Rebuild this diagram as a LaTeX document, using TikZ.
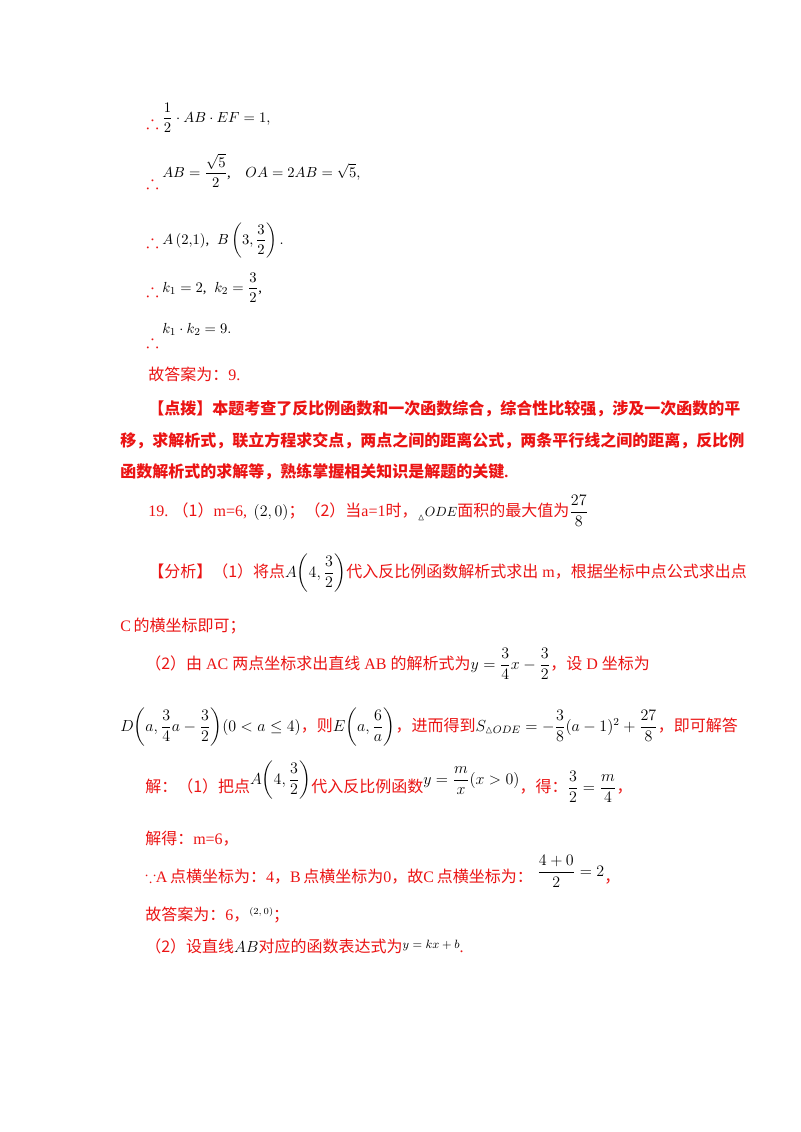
\documentclass[tikz,border=0pt]{standalone}
\usepackage{amsmath,amssymb}
\usepackage{fontspec}
\setmainfont{Liberation Serif}
\newfontfamily\cjk{Noto Sans CJK SC}
\definecolor{rd}{RGB}{235,20,20}
\newcommand{\C}[1]{{\cjk #1}}
\newcommand{\K}[1]{\textcolor{black}{#1}}
\begin{document}
\begin{tikzpicture}[x=0.75pt,y=-0.75pt,
  t/.style={anchor=base west,inner sep=0pt,font=\fontsize{12}{14}\selectfont,text=rd},
  th/.style={anchor=base west,inner sep=0pt,font=\fontsize{14}{16}\selectfont,text=rd},
  m/.style={anchor=base west,inner sep=0pt,font=\fontsize{11}{13}\selectfont}]
\useasboundingbox (0,0) rectangle (800,1132);
\fill[white] (0,0) rectangle (800,1132);
\node[th] (l1a) at (146,128) {$\therefore$};
\node[m] (l1) at (162,122) {$\dfrac{1}{2}\cdot AB\cdot EF=1,$};
\node[th] (l2a) at (146,188) {$\therefore$};
\node[m] (l2) at (162,177) {$AB=\dfrac{\sqrt5}{2}$,\quad $OA=2AB=\sqrt5,$};
\node[th] (l3a) at (146,247) {$\therefore$};
\node[m] (l3) at (162,244) {$A\left(2{,}1\right)$,\; $B\left(3,\dfrac{3}{2}\right).$};
\node[th] (l4a) at (146,296) {$\therefore$};
\node[m] (l4) at (162,292) {$k_1=2$,\; $k_2=\dfrac{3}{2}$,};
\node[th] (l5a) at (146,347) {$\therefore$};
\node[m] (l5) at (162,333) {$k_1\cdot k_2=9.$};
\node[t] (ans1) at (148,380) {\C{故答案为：}9.};
\node[t,font=\fontsize{12}{14}\selectfont\bfseries] (d1) at (148,414) {\C{【点拨】本题考查了反比例函数和一次函数综合，综合性比较强，涉及一次函数的平}};
\node[t,font=\fontsize{12}{14}\selectfont\bfseries] (d2) at (120,446) {\C{移，求解析式，联立方程求交点，两点之间的距离公式，两条平行线之间的距离，反比例}};
\node[t,font=\fontsize{12}{14}\selectfont\bfseries] (d3) at (120,477) {\C{函数解析式的求解等，熟练掌握相关知识是解题的关键}.};
\node[t] (q19) at (148,516) {19.\;\C{（1）}m=6,\, \K{$(2,0)$}\C{；（2）当}a=1\C{时，}\K{\raisebox{-3pt}{\scriptsize$\vartriangle$}\normalsize$ODE$}\C{面积的最大值为}\K{$\dfrac{27}{8}$}};
\node[t] (f1) at (148,577) {\C{【分析】（1）将点}\K{$A\!\left(4,\dfrac{3}{2}\right)$}\C{代入反比例函数解析式求出} m\C{，根据坐标中点公式求出点}};
\node[t] (f2) at (120,631) {C\,\C{的横坐标即可；}};
\node[t] (f3) at (145,669) {\C{（2）由} AC \C{两点坐标求出直线} AB \C{的解析式为}\K{$y=\dfrac{3}{4}x-\dfrac{3}{2}$}\C{，设} D \C{坐标为}};
\node[t] (f4) at (120,731) {\K{$D\!\left(a,\dfrac{3}{4}a-\dfrac{3}{2}\right)\!(0<a\le4)$}\C{，则}\K{$E\!\left(a,\dfrac{6}{a}\right)$}\C{，进而得到}\K{$S_{\vartriangle ODE}=-\dfrac{3}{8}(a-1)^2+\dfrac{27}{8}$}\C{，即可解答}};
\node[t] (s1) at (145,792) {\C{解：（1）把点}\K{\raisebox{6pt}{$A\!\left(4,\dfrac{3}{2}\right)$}}\C{代入反比例函数}\K{\raisebox{6pt}{$y=\dfrac{m}{x}(x>0)$}}\C{，得：}\K{$\dfrac{3}{2}=\dfrac{m}{4}$}\C{，}};
\node[t] (s2) at (145,844) {\C{解得：}m=6\C{，}};
\node[t] (s3) at (145,882) {$\because$A\,\C{点横坐标为：}4\C{，}B\,\C{点横坐标为}0\C{，故}C\,\C{点横坐标为：}\;\K{\raisebox{4pt}{$\dfrac{4+0}{2}=2$}}\C{，}};
\node[t] (s4) at (145,920) {\C{故答案为：}6\C{，}\K{\raisebox{4pt}{\scriptsize$(2,0)$}}\C{；}};
\node[t] (s5) at (145,952) {\C{（2）设直线}\K{$AB$}\C{对应的函数表达式为}\K{\raisebox{3pt}{\small$y=kx+b$}}.};
\end{tikzpicture}
\end{document}
